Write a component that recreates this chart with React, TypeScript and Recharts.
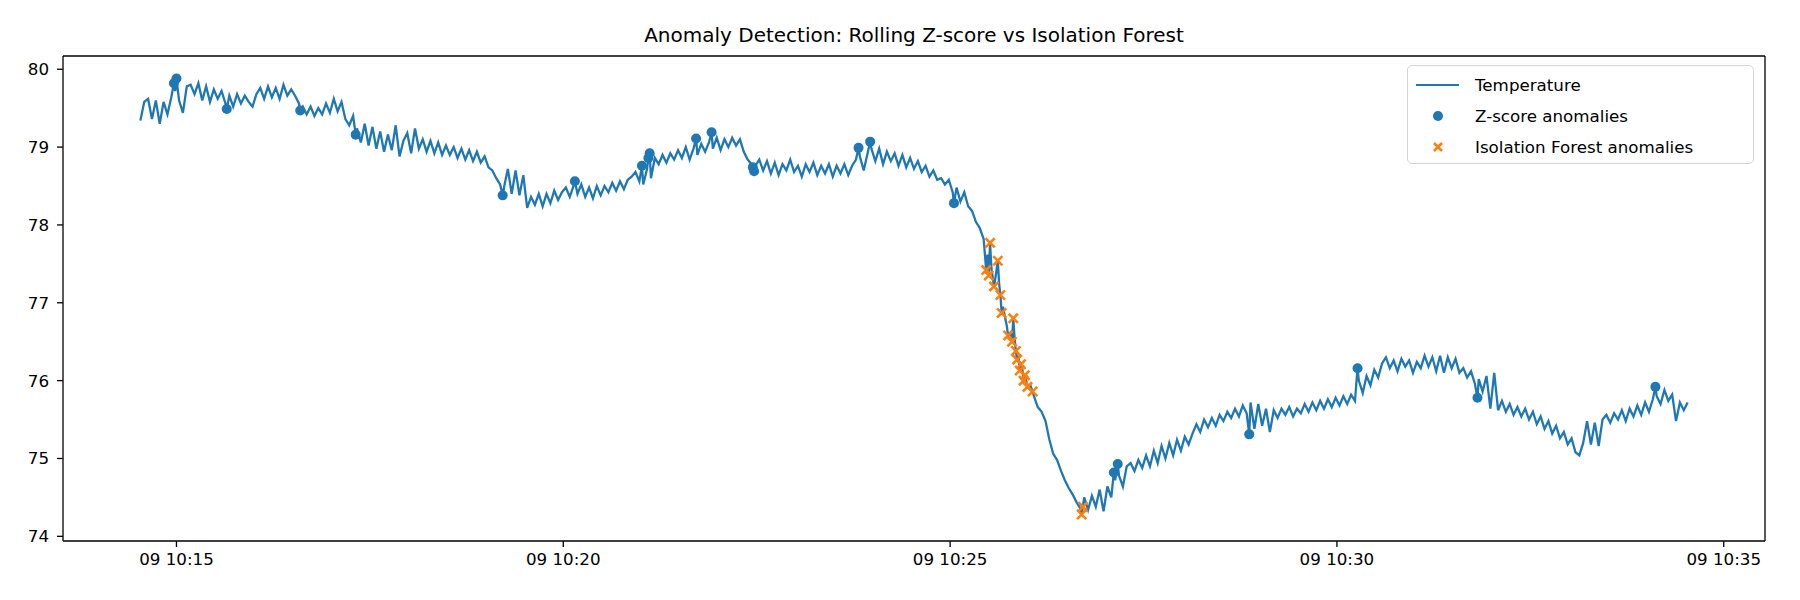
import { ComposedChart, Line, ReferenceLine, Scatter, XAxis, YAxis } from 'recharts';

// temperature readings every 3 s, starting 10:14:32 (seconds after 10:00:00)
const START = 872;
const STEP = 3;

const temperature = [
  79.34, 79.58, 79.62, 79.36, 79.6, 79.3, 79.58, 79.42, 79.64, 79.72, 79.6, 79.44, 79.78, 79.8, 79.68, 79.82, 79.6, 79.78, 79.58, 79.74,
  79.62, 79.72, 79.56, 79.66, 79.52, 79.68, 79.56, 79.66, 79.58, 79.52, 79.68, 79.76, 79.62, 79.78, 79.64, 79.76, 79.62, 79.8, 79.66, 79.74,
  79.66, 79.56, 79.52, 79.42, 79.52, 79.4, 79.5, 79.42, 79.56, 79.44, 79.62, 79.46, 79.58, 79.36, 79.28, 79.4, 79.24, 79.06, 79.3, 79.02,
  79.26, 78.98, 79.2, 78.94, 79.16, 78.96, 79.28, 78.88, 79.08, 79.18, 78.92, 79.24, 78.98, 79.1, 78.94, 79.08, 78.92, 79.06, 78.9, 79.02,
  78.9, 79.0, 78.86, 78.98, 78.84, 78.96, 78.82, 78.94, 78.8, 78.88, 78.74, 78.7, 78.6, 78.52, 78.48, 78.72, 78.4, 78.7, 78.38, 78.64,
  78.22, 78.36, 78.26, 78.4, 78.24, 78.4, 78.28, 78.44, 78.32, 78.42, 78.48, 78.36, 78.5, 78.4, 78.52, 78.36, 78.48, 78.34, 78.5, 78.38,
  78.5, 78.42, 78.54, 78.44, 78.56, 78.46, 78.58, 78.62, 78.68, 78.56, 78.52, 78.72, 78.6, 78.86, 78.78, 78.9, 78.8, 78.92, 78.84, 78.96,
  78.86, 79.0, 78.84, 78.98, 78.9, 79.04, 78.94, 79.06, 78.98, 79.12, 78.96, 79.1, 79.0, 79.12, 79.02, 79.1, 78.94, 78.84, 78.78, 78.76,
  78.84, 78.7, 78.82, 78.66, 78.8, 78.64, 78.78, 78.7, 78.84, 78.68, 78.76, 78.62, 78.78, 78.68, 78.8, 78.64, 78.76, 78.66, 78.78, 78.62,
  78.76, 78.66, 78.78, 78.64, 78.76, 78.84, 78.88, 78.7, 78.92, 78.98, 78.82, 78.98, 78.78, 78.94, 78.82, 78.92, 78.76, 78.9, 78.74, 78.86,
  78.72, 78.82, 78.68, 78.76, 78.62, 78.7, 78.58, 78.6, 78.52, 78.58, 78.42, 78.48, 78.3, 78.42, 78.24, 78.18, 78.04, 77.96, 77.82, 77.62,
  77.45, 77.3, 77.25, 76.95, 76.7, 76.62, 76.55, 76.32, 76.15, 76.0, 75.95, 75.8, 75.66, 75.6, 75.48, 75.24, 75.06, 74.98, 74.84, 74.72,
  74.62, 74.54, 74.44, 74.36, 74.5, 74.34, 74.52, 74.38, 74.6, 74.32, 74.64, 74.5, 74.72, 74.78, 74.64, 74.9, 74.94, 74.84, 74.98, 74.88,
  75.04, 74.9, 75.1, 74.94, 75.16, 75.0, 75.2, 75.04, 75.24, 75.1, 75.28, 75.18, 75.32, 75.44, 75.34, 75.5, 75.4, 75.52, 75.42, 75.56,
  75.48, 75.6, 75.52, 75.64, 75.54, 75.68, 75.58, 75.72, 75.38, 75.7, 75.42, 75.64, 75.34, 75.62, 75.52, 75.64, 75.56, 75.66, 75.54, 75.64,
  75.58, 75.7, 75.6, 75.72, 75.62, 75.74, 75.64, 75.76, 75.66, 75.78, 75.68, 75.8, 75.7, 75.82, 75.74, 76.0, 75.84, 76.06, 75.94, 76.14,
  76.04, 76.22, 76.3, 76.16, 76.26, 76.12, 76.28, 76.18, 76.26, 76.1, 76.24, 76.16, 76.32, 76.18, 76.3, 76.12, 76.32, 76.1, 76.3, 76.16,
  76.28, 76.1, 76.16, 76.04, 76.12, 75.96, 76.02, 75.86, 76.06, 75.64, 76.1, 75.62, 75.74, 75.6, 75.7, 75.56, 75.66, 75.54, 75.64, 75.5,
  75.6, 75.44, 75.54, 75.38, 75.48, 75.32, 75.42, 75.26, 75.34, 75.18, 75.26, 75.08, 75.04, 75.2, 75.48, 75.18, 75.46, 75.16, 75.5, 75.56,
  75.46, 75.58, 75.5, 75.62, 75.48, 75.64, 75.54, 75.68, 75.56, 75.72, 75.6, 75.76, 75.8, 75.7, 75.88, 75.74, 75.82, 75.48, 75.72, 75.62,
  75.72,
];

// rolling z-score anomalies: [seconds, temperature]
const zScoreAnomalies = [
  [898, 79.82], [900, 79.88], [939, 79.49], [996, 79.47], [1039, 79.16], [1153, 78.38], [1209, 78.56],
  [1261, 78.76], [1266, 78.86], [1267, 78.92], [1303, 79.11], [1315, 79.19], [1347, 78.74], [1348, 78.69],
  [1429, 78.99], [1438, 79.07], [1503, 78.28], [1627, 74.82], [1630, 74.93], [1732, 75.31], [1816, 76.16],
  [1909, 75.78], [2047, 75.92],
];

// isolation forest anomalies: [seconds, temperature]
const isolationAnomalies = [
  [1528, 77.42], [1530, 77.35], [1531, 77.77], [1534, 77.21], [1537, 77.54], [1539, 77.1], [1540, 76.87],
  [1545, 76.58], [1548, 76.5], [1549, 76.8], [1551, 76.38], [1552, 76.27], [1554, 76.13], [1555, 76.21],
  [1557, 76.0], [1558, 76.07], [1560, 75.92], [1564, 75.86], [1602, 74.28], [1603, 74.38],
];

const xTicks = [900, 1200, 1500, 1800, 2100];
const xTickLabels = ['09 10:15', '09 10:20', '09 10:25', '09 10:30', '09 10:35'];
const yTicks = [74, 75, 76, 77, 78, 79, 80];

const X_DOMAIN = [812, 2132];
const Y_DOMAIN = [73.94, 80.17];

const BLUE = '#1f77b4';
const ORANGE = '#ff7f0e';
const FONT = '"DejaVu Sans", sans-serif';

const toPoints = (rows: number[][]) => rows.map(([t, v]) => ({ t, v }));

const zData = toPoints(zScoreAnomalies);
const ifData = toPoints(isolationAnomalies);
const lineData = [...temperature.map((v, i) => ({ t: START + i * STEP, v })), ...zData, ...ifData].sort(
  (a, b) => a.t - b.t,
);

const Dot = (props: any) => <circle cx={props.cx} cy={props.cy} r={5} fill={BLUE} />;

const Cross = (props: any) => {
  const { cx, cy } = props;
  const d = 4.6;
  return (
    <path
      d={`M${cx - d},${cy - d}L${cx + d},${cy + d}M${cx - d},${cy + d}L${cx + d},${cy - d}`}
      stroke={ORANGE}
      strokeWidth={2.6}
      fill="none"
    />
  );
};

const tickStyle = { fill: '#000', fontSize: 16.7, fontFamily: FONT };
const spine = { stroke: '#000', strokeWidth: 1.3 };

const Legend = () => (
  <div
    style={{
      position: 'absolute',
      left: 1407,
      top: 65,
      width: 345,
      height: 97,
      border: '1.5px solid #d5d5d5',
      borderRadius: 5,
      background: 'rgba(255,255,255,0.8)',
      fontFamily: FONT,
      fontSize: 16.7,
      color: '#000',
    }}
  >
    {[
      { label: 'Temperature', icon: <line x1={7} y1={10} x2={50} y2={10} stroke={BLUE} strokeWidth={2} /> },
      { label: 'Z-score anomalies', icon: <circle cx={29} cy={10} r={5} fill={BLUE} /> },
      {
        label: 'Isolation Forest anomalies',
        icon: <path d="M25,6L33,14M25,14L33,6" stroke={ORANGE} strokeWidth={2.6} />,
      },
    ].map((row, i) => (
      <div key={row.label} style={{ position: 'absolute', left: 0, top: 9 + i * 31, height: 20, display: 'flex', alignItems: 'center' }}>
        <svg width={60} height={20} style={{ marginLeft: 1 }}>
          {row.icon}
        </svg>
        <span style={{ marginLeft: 6, lineHeight: '20px' }}>{row.label}</span>
      </div>
    ))}
  </div>
);

export default function App() {
  return (
    <div style={{ position: 'absolute', left: 0, top: 0, width: 1800, height: 600, background: '#fff' }}>
      <div
        style={{
          position: 'absolute',
          left: 63,
          width: 1702,
          top: 23,
          textAlign: 'center',
          fontFamily: FONT,
          fontSize: 20,
          lineHeight: '24px',
          color: '#000',
        }}
      >
        Anomaly Detection: Rolling Z-score vs Isolation Forest
      </div>
      <ComposedChart width={1800} height={600} margin={{ top: 56, right: 35, bottom: 29, left: 13 }}>
        <XAxis
          dataKey="t"
          type="number"
          domain={X_DOMAIN}
          allowDataOverflow
          ticks={xTicks}
          tickFormatter={(value: number) => xTickLabels[xTicks.indexOf(value)] ?? ''}
          tick={tickStyle}
          tickSize={6}
          tickMargin={6}
          tickLine={spine}
          axisLine={spine}
          height={30}
        />
        <YAxis
          dataKey="v"
          type="number"
          domain={Y_DOMAIN}
          allowDataOverflow
          ticks={yTicks}
          tick={tickStyle}
          tickSize={6}
          tickMargin={8}
          tickLine={spine}
          axisLine={spine}
          width={50}
        />
        <ReferenceLine y={Y_DOMAIN[1]} stroke="#000" strokeWidth={1.3} />
        <ReferenceLine x={X_DOMAIN[1]} stroke="#000" strokeWidth={1.3} />
        <Line
          data={lineData}
          dataKey="v"
          type="linear"
          stroke={BLUE}
          strokeWidth={2.3}
          dot={false}
          activeDot={false}
          isAnimationActive={false}
        />
        <Scatter data={zData} dataKey="v" shape={Dot} isAnimationActive={false} />
        <Scatter data={ifData} dataKey="v" shape={Cross} isAnimationActive={false} />
      </ComposedChart>
      <Legend />
    </div>
  );
}
